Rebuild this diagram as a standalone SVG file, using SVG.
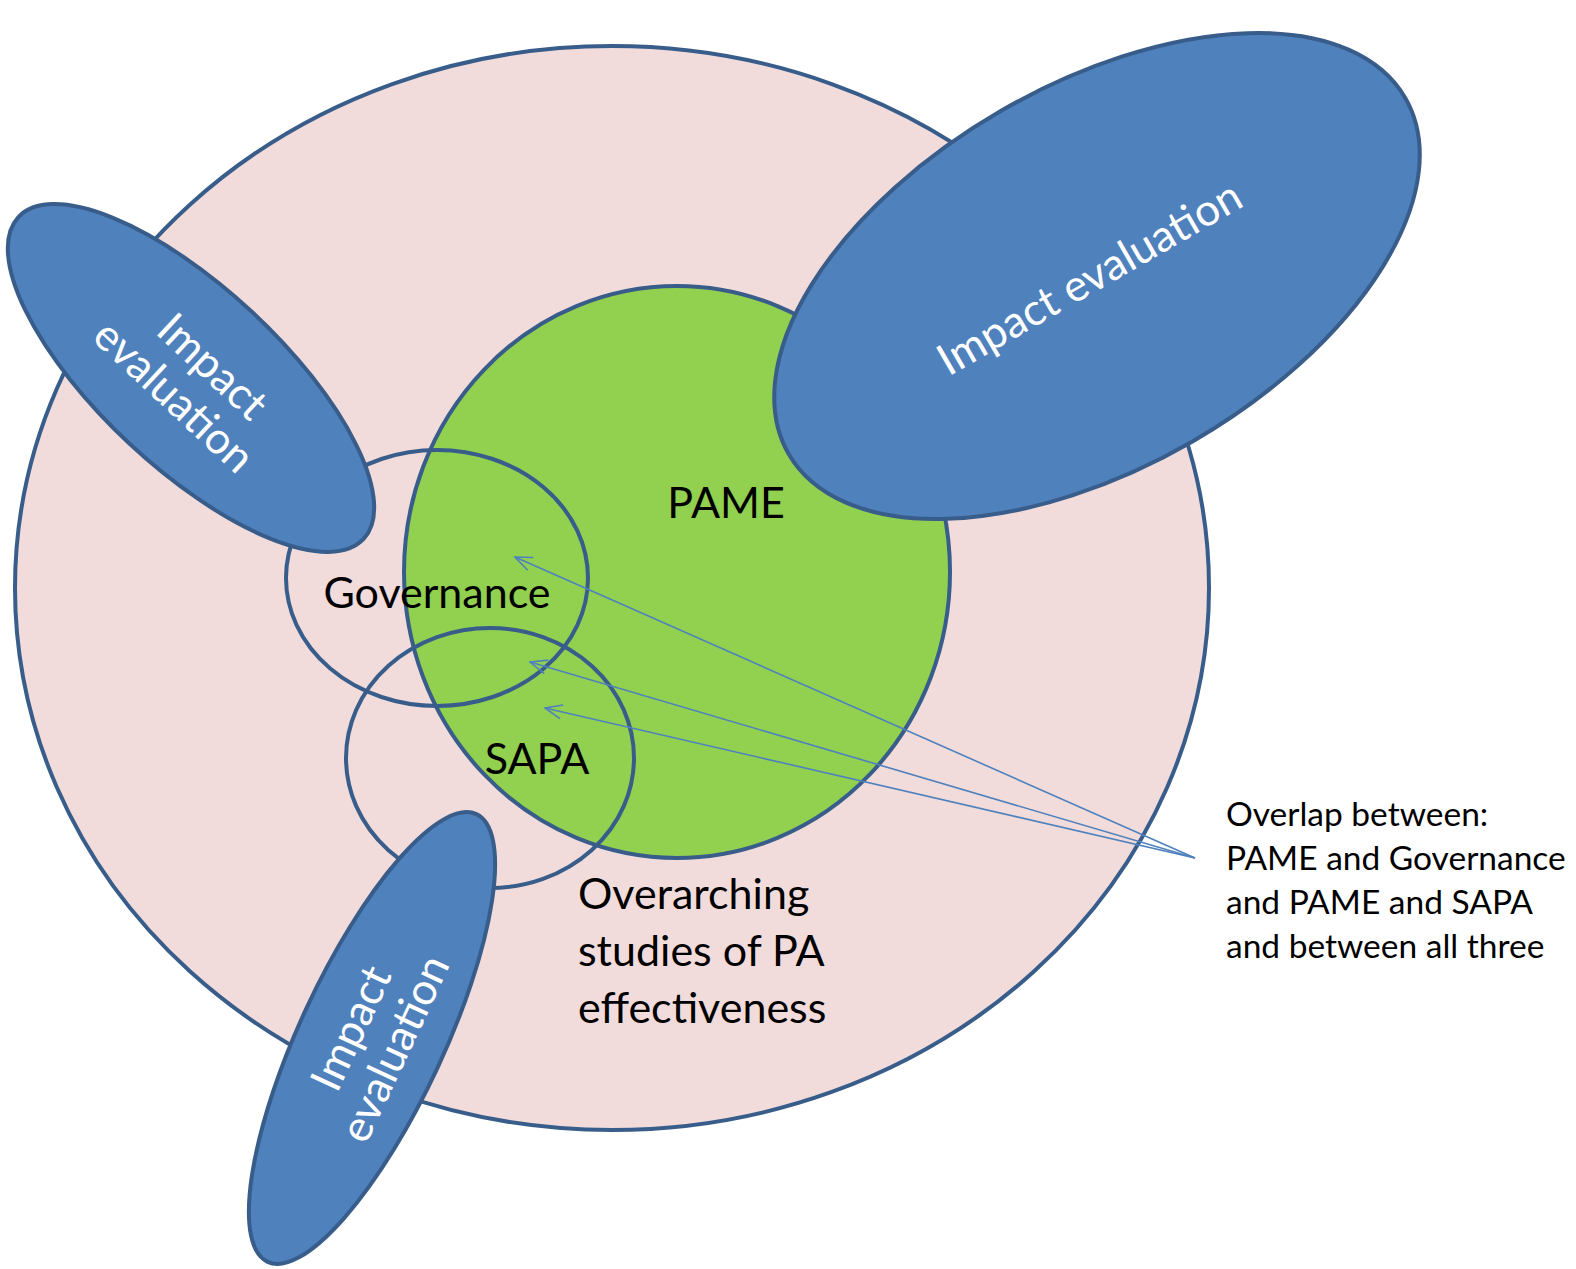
<svg xmlns="http://www.w3.org/2000/svg" width="1576" height="1269" viewBox="0 0 1576 1269">
<defs>
<style>
.outline{fill:none;stroke:#385D8A;stroke-width:4}
.impact{fill:#4F81BD;stroke:#385D8A;stroke-width:4}
.lbl{font-family:Lato,"Open Sans",sans-serif;font-size:43px;fill:#000}
.wlbl{font-family:Lato,"Open Sans",sans-serif;font-size:44px;fill:#fff;text-anchor:middle}
.note{font-family:Lato,"Open Sans",sans-serif;font-size:33.5px;fill:#000}
.arrow{fill:none;stroke:#4F81BD;stroke-width:1.6}
</style>
<marker id="open" viewBox="0 0 20 20" refX="19" refY="10" markerWidth="20" markerHeight="20" markerUnits="userSpaceOnUse" orient="auto">
<path d="M2,3 L19,10 L2,17" fill="none" stroke="#4F81BD" stroke-width="1.6"/>
</marker>
</defs>
<rect width="1576" height="1269" fill="#fff"/>
<g id="overarching">
<ellipse cx="612" cy="588" rx="597" ry="542" fill="#F2DCDB" stroke="#385D8A" stroke-width="4"/>
</g>
<g id="pame">
<ellipse cx="677" cy="572" rx="273" ry="286" fill="#92D050" stroke="#385D8A" stroke-width="4"/>
</g>
<g id="governance">
<ellipse cx="437" cy="578" rx="151" ry="128" class="outline"/>
</g>
<g id="sapa">
<ellipse cx="490" cy="758" rx="144" ry="130" class="outline"/>
</g>
<g id="impact-right">
<ellipse cx="0" cy="0" rx="356" ry="191" class="impact" transform="translate(1097 276) rotate(-30)"/>
<text class="wlbl" transform="translate(1097 291) rotate(-30)">Impact evaluation</text>
</g>
<g id="impact-left">
<ellipse cx="0" cy="0" rx="236" ry="90" class="impact" transform="translate(191 378) rotate(43)"/>
<text class="wlbl" transform="translate(191 378) rotate(43)"><tspan x="8" y="-8">Impact</tspan><tspan x="0" y="40">evaluation</tspan></text>
</g>
<g id="impact-bottom">
<ellipse cx="0" cy="0" rx="247" ry="72" class="impact" transform="translate(372 1038) rotate(-65)"/>
<text class="wlbl" transform="translate(372 1038) rotate(-65)"><tspan x="0" y="-8">Impact</tspan><tspan x="0" y="40">evaluation</tspan></text>
</g>
<g id="connectors">
<line x1="1195" y1="858" x2="515" y2="557" class="arrow" marker-end="url(#open)"/>
<line x1="1195" y1="858" x2="530" y2="662" class="arrow" marker-end="url(#open)"/>
<line x1="1195" y1="858" x2="545" y2="708" class="arrow" marker-end="url(#open)"/>
</g>
<g id="labels">
<text class="lbl" x="726" y="518" text-anchor="middle">PAME</text>
<text class="lbl" x="437" y="608" text-anchor="middle">Governance</text>
<text class="lbl" x="537" y="774" text-anchor="middle">SAPA</text>
<text class="lbl"><tspan x="578" y="909">Overarching</tspan><tspan x="578" y="966">studies of PA</tspan><tspan x="578" y="1023">effectiveness</tspan></text>
<text class="note"><tspan x="1226" y="826">Overlap between:</tspan><tspan x="1226" y="870">PAME and Governance</tspan><tspan x="1226" y="914">and PAME and SAPA</tspan><tspan x="1226" y="958">and between  all three</tspan></text>
</g>
</svg>
